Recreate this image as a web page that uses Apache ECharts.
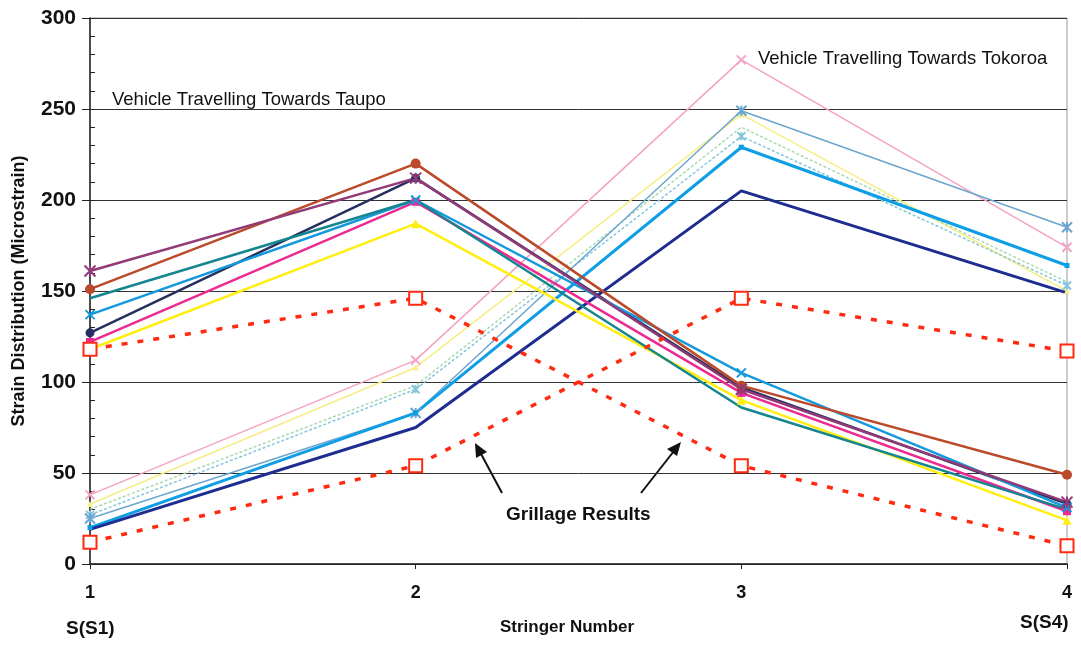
<!DOCTYPE html>
<html><head><meta charset="utf-8">
<script src="https://cdn.jsdelivr.net/npm/echarts@6/dist/echarts.min.js"></script>
<style>html,body{margin:0;padding:0;background:#fff}#c{width:1081px;height:646px}</style>
</head><body><div id="c"></div>
<script>
const categories = ['1', '2', '3', '4'];
const yTicks = [0, 50, 100, 150, 200, 250, 300];

// Vehicle travelling towards Taupo
const taupoPurple  = [161, 212, 96, 34];
const taupoBrown   = [151, 220, 98, 49];
const taupoTeal    = [146, 200, 86, 30];
const taupoBlue    = [137, 200, 105, 31];
const taupoNavy    = [127, 212, 97, 33];
const taupoMagenta = [122, 199, 94, 29];
const taupoYellow  = [118, 187, 90, 24];
const taupoGrillage = [118, 146, 54, 10];

// Vehicle travelling towards Tokoroa
const tokPink      = [38, 112, 277, 174];
const tokLtYellow  = [33, 108, 247, 150];
const tokLtGreen   = [30, 98, 240, 155];
const tokLtCyan    = [27, 96, 235, 153];
const tokSteel     = [25, 83, 249, 185];
const tokBlue      = [20, 83, 229, 164];
const tokNavy      = [19, 75, 205, 149];
const tokGrillage  = [12, 54, 146, 117];

const FONT = 'Liberation Sans, Arial, sans-serif';
const star = 'path://M0,0L10,10M10,0L0,10M5,0L5,10';
const xmark = 'path://M0,0L10,10M10,0L0,10';

function ln(name, data, color, width, symbol, size, extra) {
  const s = {
    name, type: 'line', data, yAxisIndex: 0,
    lineStyle: { color, width },
    itemStyle: { color, borderColor: color, borderWidth: (symbol === star || symbol === xmark) ? 2 : 0 },
    symbol: symbol || 'none', symbolSize: size || 8, showSymbol: !!symbol,
    animation: false, z: 3
  };
  return Object.assign(s, extra || {});
}

const series = [
  ln('tokPink', tokPink, '#f4a3c4', 1.5, xmark, 9),
  ln('tokLtYellow', tokLtYellow, '#f6ee86', 1.5, 'triangle', 6),
  ln('tokLtGreen', tokLtGreen, '#a9d9b0', 1.5, null, 6, {lineStyle:{color:'#a9d9b0',width:1.5,type:[3,2]}}),
  ln('tokLtCyan', tokLtCyan, '#86c6da', 1.5, star, 8, {lineStyle:{color:'#86c6da',width:1.5,type:[3,2]}}),
  ln('tokSteel', tokSteel, '#6aa6cf', 1.5, star, 10),
  ln('tokBlue', tokBlue, '#0e9ee6', 3, 'rect', 5),
  ln('tokNavy', tokNavy, '#1e2c90', 3, null),
  ln('taupoYellow', taupoYellow, '#ffee10', 2.5, 'triangle', 9),
  ln('taupoMagenta', taupoMagenta, '#ec2a92', 2.5, 'rect', 8),
  ln('taupoNavy', taupoNavy, '#26305f', 2.5, 'circle', 9),
  ln('taupoBlue', taupoBlue, '#1599dd', 2.5, xmark, 9),
  ln('taupoTeal', taupoTeal, '#15858f', 2.5, null),
  ln('taupoBrown', taupoBrown, '#bb4a2a', 2.5, 'circle', 10),
  ln('taupoPurple', taupoPurple, '#913a78', 2.5, star, 11),
  ln('taupoGrillage', taupoGrillage, '#ff2a10', 3.5, 'rect', 13,
     {lineStyle:{color:'#ff2a10',width:3.5,type:[6,10]},
      itemStyle:{color:'#ffffff',borderColor:'#ff2a10',borderWidth:2}, z:4}),
  ln('tokGrillage', tokGrillage, '#ff2a10', 3.5, 'rect', 13,
     {lineStyle:{color:'#ff2a10',width:3.5,type:[6,10]},
      itemStyle:{color:'#ffffff',borderColor:'#ff2a10',borderWidth:2}, z:4})
];

const chart = echarts.init(document.getElementById('c'), null, {renderer: 'canvas'});
chart.setOption({
  backgroundColor: '#ffffff',
  animation: false,
  grid: { left: 90, right: 14, top: 18, bottom: 82, show: true, borderColor: '#9a9a9a', borderWidth: 1, backgroundColor: 'transparent' },
  xAxis: {
    type: 'category', data: categories, boundaryGap: false,
    axisLine: { lineStyle: { color: '#222', width: 1.5 } },
    axisTick: { show: true, length: 5, lineStyle: { color: '#222' } },
    axisLabel: { color: '#111', fontFamily: FONT, fontWeight: 'bold', fontSize: 18, margin: 20 },
    splitLine: { show: false }
  },
  yAxis: [{
    type: 'value', min: yTicks[0], max: yTicks[yTicks.length - 1], interval: 50,
    name: 'Strain Distribution (Microstrain)', nameLocation: 'middle', nameGap: 62,
    nameTextStyle: { color: '#111', fontFamily: FONT, fontWeight: 'bold', fontSize: 18 },
    axisLine: { show: true, lineStyle: { color: '#222', width: 1.5 } },
    axisTick: { show: true, length: 8, lineStyle: { color: '#222' } },
    axisLabel: { color: '#111', fontFamily: FONT, fontWeight: 'bold', fontSize: 21, margin: 14 },
    splitLine: { show: true, lineStyle: { color: '#333', width: 1 } }
  }, {
    type: 'value', min: 0, max: 300, interval: 10, position: 'left',
    axisLine: { show: false }, axisLabel: { show: false }, splitLine: { show: false },
    axisTick: { show: true, inside: true, length: 5, lineStyle: { color: '#222' } }
  }],
  series: series,
  graphic: [
    { type: 'text', left: 112, top: 90, style: { text: 'Vehicle Travelling Towards Taupo', font: '18.5px ' + FONT, fill: '#111' } },
    { type: 'text', left: 758, top: 49, style: { text: 'Vehicle Travelling Towards Tokoroa', font: '18.5px ' + FONT, fill: '#111' } },
    { type: 'text', left: 506, top: 505, style: { text: 'Grillage Results', font: 'bold 19px ' + FONT, fill: '#111' } },
    { type: 'text', left: 66, top: 619, style: { text: 'S(S1)', font: 'bold 19px ' + FONT, fill: '#111' } },
    { type: 'text', left: 1020, top: 613, style: { text: 'S(S4)', font: 'bold 19px ' + FONT, fill: '#111' } },
    { type: 'text', left: 500, top: 619, style: { text: 'Stringer Number', font: 'bold 17px ' + FONT, fill: '#111' } },
    { type: 'line', shape: { x1: 502, y1: 493, x2: 480, y2: 452 }, style: { stroke: '#111', lineWidth: 2 } },
    { type: 'polygon', shape: { points: [[475, 443], [476, 458], [487, 452]] }, style: { fill: '#111' } },
    { type: 'line', shape: { x1: 641, y1: 493, x2: 674, y2: 451 }, style: { stroke: '#111', lineWidth: 2 } },
    { type: 'polygon', shape: { points: [[681, 442], [667, 449], [677, 456]] }, style: { fill: '#111' } }
  ]
});
</script></body></html>
